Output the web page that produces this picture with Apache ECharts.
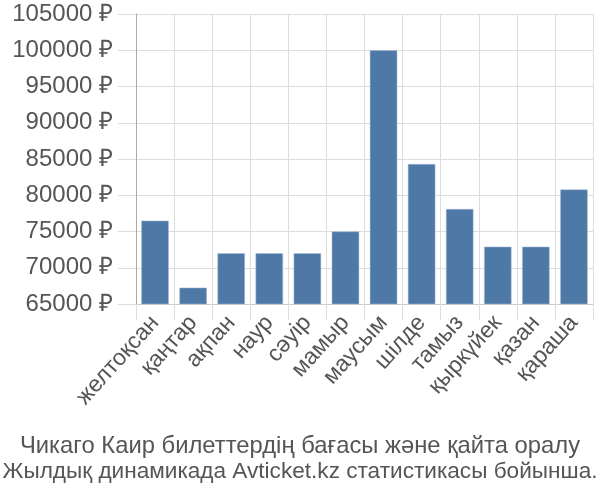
<!DOCTYPE html>
<html><head><meta charset="utf-8">
<script src="https://cdn.jsdelivr.net/npm/echarts@6/dist/echarts.min.js"></script>
<style>html,body{margin:0;padding:0;background:#fff}#c{width:600px;height:500px}</style>
</head><body><div id="c"></div>
<script>
const months = ['желтоқсан','қаңтар','ақпан','наур','сәуір','мамыр','маусым','шілде','тамыз','қыркүйек','қазан','қараша'];
const prices = [76500, 67250, 72000, 72000, 72000, 75000, 100000, 84300, 78100, 72900, 72900, 80800];
const yMin = 65000, yMax = 105000, yStep = 5000;
const titleLines = ['Чикаго Каир билеттердің бағасы және қайта оралу', 'Жылдық динамикада Avticket.kz статистикасы бойынша.'];

const font = 'Liberation Sans';
const chart = echarts.init(document.getElementById('c'), null, {renderer:'canvas'});
chart.setOption({
  animation: false,
  textStyle: {fontFamily: font},
  title: {
    text: '{a|' + titleLines[0] + '}\n{b|' + titleLines[1] + '}',
    left: 'center', top: 428,
    textStyle: {
      fontWeight: 'normal', color: '#555', fontFamily: font,
      rich: {
        a: {fontSize: 23.8, color: '#555', fontFamily: font, lineHeight: 26, align: 'center'},
        b: {fontSize: 22.6, color: '#555', fontFamily: font, lineHeight: 26, align: 'center'}
      }
    }
  },
  grid: {left: 136, right: 7, top: 14, bottom: 196, containLabel: false},
  xAxis: {
    type: 'category', data: months,
    axisLine: {show: true, lineStyle: {color: '#ccc'}},
    axisTick: {show: true, length: 16, lineStyle: {color: '#ddd'}},
    splitLine: {show: true, lineStyle: {color: '#ddd'}},
    axisLabel: {rotate: 48, fontSize: 23, color: '#555', margin: 15, interval: 0, fontFamily: font}
  },
  yAxis: {
    type: 'value', min: yMin, max: yMax, interval: yStep,
    axisLine: {show: true, lineStyle: {color: '#aaa', width: 1}},
    axisTick: {show: true, length: 18, lineStyle: {color: '#ddd'}},
    splitLine: {show: true, lineStyle: {color: '#ddd'}},
    axisLabel: {formatter: v => v + ' ₽', fontSize: 24, color: '#555', margin: 23, fontFamily: font}
  },
  series: [{
    type: 'bar', data: prices, barCategoryGap: '28%',
    itemStyle: {color: '#4e79a7', borderColor: '#a9bdd6', borderWidth: 0.5}
  }]
});
</script></body></html>
